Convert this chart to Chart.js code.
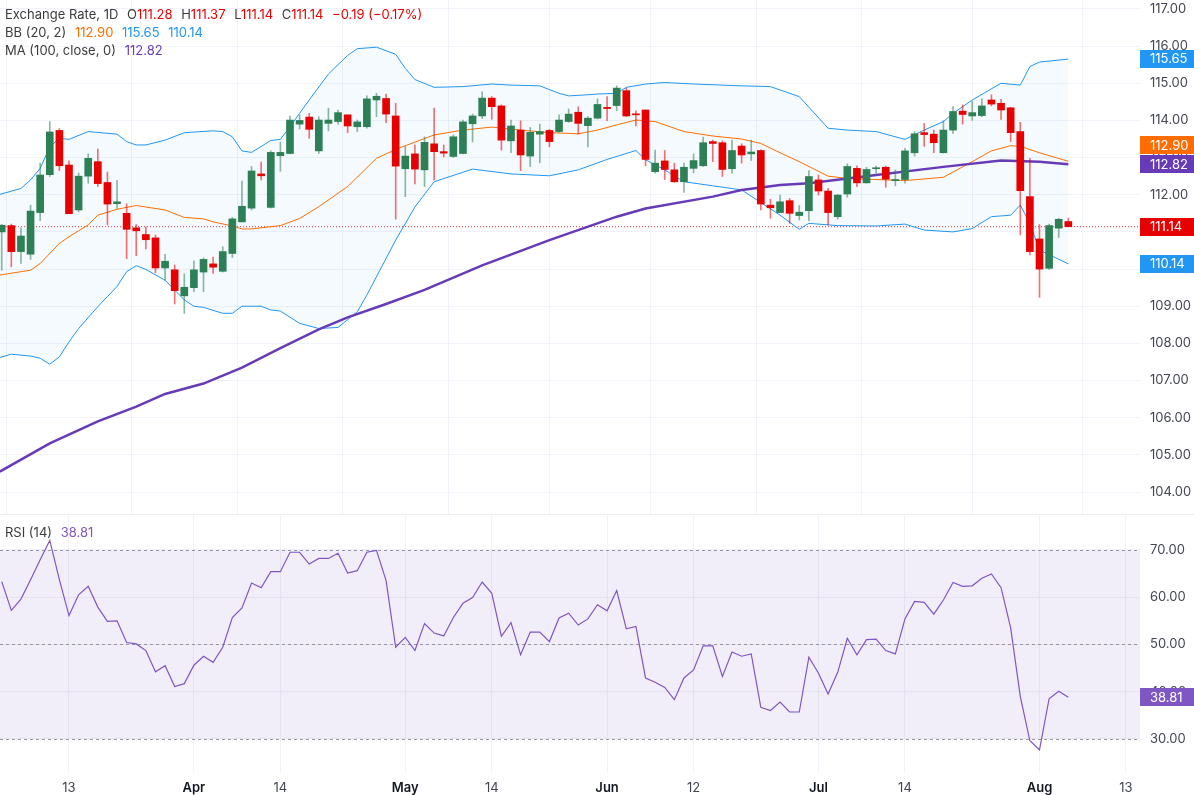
<!DOCTYPE html>
<html>
<head>
<meta charset="utf-8">
<script src="https://cdn.jsdelivr.net/npm/chart.js@4.4.1/dist/chart.umd.min.js"></script>
<style>
  body { margin: 0; background: #fff; font-family: Inter, "Noto Sans", sans-serif; }
  #wrap { position: relative; width: 1194px; height: 795px; overflow: hidden; }
  #price-box { position: absolute; left: 0; top: 0; width: 1194px; height: 514px; }
  #rsi-box { position: absolute; left: 0; top: 514px; width: 1194px; height: 281px; }
  #pane-line { position: absolute; left: 0; top: 514px; width: 1194px; height: 1px; background: #eceef2; }
  .legend { position: absolute; left: 5px; font-size: 13px; line-height: 18px; color: #3c3c3c; white-space: nowrap; }
  .legend span { margin-left: 5px; }
  .red { color: #e60000; }
  .orange { color: #ff6d00; }
  .blue { color: #2196f3; }
  .purple { color: #673ab7; }
  .violet { color: #7e57c2; }
</style>
</head>
<body>
<div id="wrap">
  <div id="price-box"><canvas id="price-chart"></canvas></div>
  <div id="rsi-box"><canvas id="rsi-chart"></canvas></div>
  <div id="pane-line"></div>
  <div class="legend" style="top:5px">Exchange Rate, 1D <span>O<b class="red" style="font-weight:400">111.28</b></span> <span>H<b class="red" style="font-weight:400">111.37</b></span> <span>L<b class="red" style="font-weight:400">111.14</b></span> <span>C<b class="red" style="font-weight:400">111.14</b></span> <span class="red">−0.19 (−0.17%)</span></div>
  <div class="legend" style="top:23px">BB (20, 2) <span class="orange">112.90</span> <span class="blue">115.65</span> <span class="blue">110.14</span></div>
  <div class="legend" style="top:41px">MA (100, close, 0) <span class="purple">112.82</span></div>
  <div class="legend" style="top:523px">RSI (14) <span class="violet">38.81</span></div>
</div>
<script>
'use strict';

// daily candles, index 0 = first day visible on the left edge
let opens = [111.00,111.17,110.47,110.40,111.52,112.54,113.73,112.80,111.59,112.50,
  112.89,112.33,111.76,111.50,111.11,110.93,110.84,110.03,109.98,109.28,
  109.50,109.92,110.14,109.94,110.42,111.27,111.64,112.56,111.66,113.05,
  113.11,113.90,114.09,113.18,113.92,113.97,114.15,113.83,113.83,114.55,
  114.59,114.12,112.70,113.10,112.67,113.37,113.16,113.03,113.11,113.91,
  114.12,114.60,114.39,113.45,113.74,113.04,113.63,113.73,113.70,113.97,
  114.22,113.86,114.06,114.35,114.40,114.80,114.17,114.28,112.62,112.91,
  112.67,112.35,112.71,112.78,113.43,113.40,112.70,113.31,113.10,113.19,
  111.72,111.52,111.84,111.44,111.57,112.40,112.10,111.41,112.02,112.71,
  112.32,112.70,112.74,112.38,112.41,113.13,113.67,113.63,113.13,113.74,
  114.25,114.12,114.13,114.55,114.46,114.34,113.70,111.95,110.81,110.02,
  111.10,111.28];
let highs = [111.20,111.21,111.11,111.72,112.85,113.97,113.78,112.91,112.58,113.10,
  113.23,112.61,112.39,111.76,111.20,111.14,110.92,110.40,110.11,109.87,
  110.22,110.30,110.32,110.60,111.39,112.37,112.76,112.88,113.18,113.42,
  114.12,114.15,114.19,114.10,114.33,114.28,114.15,114.01,114.66,114.73,
  114.71,114.46,113.30,113.34,113.56,114.33,113.34,113.61,114.01,114.17,
  114.77,114.64,114.42,114.01,113.99,113.81,113.90,113.76,114.15,114.31,
  114.37,114.10,114.58,114.64,114.93,114.87,114.26,114.28,113.20,113.19,
  112.85,112.85,113.10,113.55,113.47,113.45,113.47,113.37,113.47,113.21,
  111.88,111.99,111.90,111.71,112.65,112.53,112.17,112.01,112.83,112.78,
  112.74,112.77,112.77,112.67,113.25,113.70,113.92,113.74,113.99,114.37,
  114.42,114.51,114.58,114.69,114.57,114.35,113.95,112.98,111.20,111.21,
  111.37,111.37];
let lows = [109.97,110.06,110.15,110.26,111.30,112.49,112.65,111.49,111.54,112.31,
  112.22,111.19,111.63,110.28,110.36,110.54,109.90,109.70,109.06,108.81,
  109.39,109.39,109.88,109.92,110.31,111.27,111.59,112.40,111.64,112.63,
  113.10,113.77,113.52,113.11,113.72,113.90,113.67,113.70,113.79,114.10,
  113.94,111.34,111.95,112.29,112.22,112.40,113.02,113.00,113.10,113.42,
  114.05,114.03,113.20,113.13,112.65,112.76,112.86,113.29,113.68,113.95,
  113.63,113.29,114.04,113.99,114.26,114.10,113.85,112.78,112.58,112.41,
  112.33,112.06,112.59,112.76,112.89,112.49,112.58,112.85,112.92,111.59,
  111.37,111.52,111.23,111.32,111.30,111.99,111.19,111.34,111.93,112.22,
  112.31,112.58,112.20,112.24,112.31,113.04,113.30,113.13,113.12,113.65,
  113.90,114.00,114.10,114.39,114.03,113.43,110.92,110.38,109.24,109.99,
  110.85,111.14];
let closes = [111.18,110.47,110.89,111.56,112.53,113.69,112.78,111.49,112.50,112.98,
  112.30,111.75,111.81,111.07,111.03,110.79,110.03,110.21,109.42,109.51,
  109.98,110.26,110.05,110.47,111.35,111.69,112.64,112.51,113.14,113.14,
  114.01,114.00,113.76,114.01,114.01,114.21,113.85,113.96,114.58,114.65,
  114.17,112.77,113.04,112.69,113.41,113.16,113.12,113.56,113.96,114.12,
  114.60,114.37,113.47,113.85,113.07,113.68,113.70,113.43,114.01,114.17,
  113.92,114.06,114.43,114.32,114.87,114.12,114.15,112.95,112.85,112.68,
  112.35,112.74,112.92,113.40,113.38,112.68,113.19,113.07,113.15,111.75,
  111.65,111.81,111.50,111.53,112.49,112.10,111.52,111.99,112.76,112.32,
  112.68,112.72,112.42,112.41,113.18,113.64,113.62,113.40,113.74,114.24,
  114.16,114.21,114.39,114.44,114.28,113.67,112.11,110.47,110.00,111.17,
  111.34,111.14];

// Bollinger bands and 100-day MA as [day index, value]
let bbUpper = [[-0.2,112.01],[2,112.17],[3,112.40],[4,112.71],[5,113.29],[6,113.52],[7,113.49],[9,113.70],
  [12,113.63],[13,113.43],[14,113.34],[15,113.34],[17,113.47],[19,113.67],[22,113.72],[23,113.70],
  [24,113.56],[25,113.18],[26,113.14],[28,113.46],[29,113.49],[30,113.83],[31,114.19],[32,114.55],
  [34,115.25],[36,115.75],[37,115.93],[39,115.97],[41,115.78],[42,115.40],[43,115.10],[45,114.89],
  [48,114.91],[51,114.98],[53,114.95],[56,114.93],[58,114.73],[59,114.66],[61,114.69],[62,114.71],
  [64,114.73],[65,114.89],[67,114.98],[69,115.02],[72,114.98],[77,114.93],[80,114.91],[83,114.64],
  [86,113.79],[88,113.74],[91,113.70],[94,113.49],[96,113.74],[98,113.97],[99,114.19],[101,114.55],
  [104,115.00],[106,114.95],[107,115.45],[108,115.57],[111,115.65]];
let bbMiddle = [[-0.2,109.84],[3,109.97],[4,110.15],[6,110.69],[7,110.87],[9,111.19],[10,111.45],[12,111.61],
  [14,111.71],[17,111.59],[19,111.39],[21,111.35],[22,111.27],[24,111.16],[25,111.08],[26,111.08],
  [29,111.17],[31,111.36],[33,111.68],[36,112.22],[39,112.98],[41,113.22],[45,113.61],[48,113.74],
  [51,113.82],[54,113.74],[57,113.67],[60,113.64],[62,113.74],[64,113.88],[66,114.01],[68,113.97],
  [71,113.70],[74,113.58],[77,113.50],[79,113.38],[81,113.13],[83,112.89],[86,112.50],[88,112.44],
  [91,112.41],[94,112.38],[98,112.47],[101,112.89],[103,113.18],[105,113.32],[106,113.30],[108,113.13],
  [111,112.90]];
let bbLower = [[-0.2,107.62],[1,107.71],[3,107.66],[4,107.60],[5,107.44],[6,107.64],[7,108.04],[8,108.40],
  [10,108.99],[11,109.26],[12,109.53],[13,109.93],[14,110.09],[15,109.99],[17,109.70],[19,109.17],
  [20,109.00],[21,108.97],[23,108.81],[24,108.81],[25,109.00],[27,109.00],[28,108.90],[29,108.87],
  [31,108.54],[33,108.40],[35,108.43],[37,108.85],[38,109.30],[41,110.78],[43,111.67],[45,112.35],
  [49,112.69],[53,112.56],[57,112.51],[60,112.67],[63,112.95],[66,113.19],[67,112.94],[69,112.67],
  [71,112.35],[74,112.24],[77,112.13],[81,111.45],[83,111.07],[84,111.23],[87,111.17],[91,111.16],
  [94,111.21],[96,111.05],[99,111.00],[101,111.09],[103,111.41],[105,111.45],[106,111.72],[107,111.23],
  [108,110.51],[111,110.14]];
let ma100 = [[-0.2,104.55],[5,105.31],[10,105.90],[14,106.30],[17,106.64],[21,106.92],[25,107.35],[29,107.87],
  [33,108.38],[36,108.70],[40,109.06],[44,109.44],[50,110.10],[57,110.78],[64,111.41],[67,111.63],
  [74,111.95],[77,112.13],[81,112.26],[84,112.31],[91,112.53],[98,112.75],[104,112.92],[108,112.89],
  [111,112.82]];

// RSI (14), one value per candle
let rsiValues = [63.3,57.2,59.6,63.7,67.9,72.0,63.7,56.1,60.5,62.3,
  57.9,54.9,55.0,50.4,50.1,48.7,44.2,45.5,41.1,41.7,
  45.6,47.5,46.2,49.4,55.7,57.7,63.0,62.0,65.4,65.4,
  69.5,69.5,67.0,68.2,68.2,69.3,65.1,65.6,69.5,69.9,
  63.5,49.4,51.5,48.7,54.4,52.4,51.8,55.7,58.7,59.9,
  63.2,60.8,51.7,54.6,47.8,52.6,52.6,50.6,55.6,56.6,
  54.1,55.4,58.4,57.1,61.4,53.3,53.8,42.9,42.0,40.9,
  38.3,42.9,44.6,49.7,49.7,43.2,48.4,47.5,48.0,36.7,
  36.0,37.8,35.7,35.7,47.3,43.9,39.5,44.1,51.3,47.8,
  51.0,51.1,48.7,48.0,55.4,59.1,58.9,56.4,59.4,63.1,
  62.3,62.4,64.0,64.9,62.0,53.5,39.0,29.6,27.7,38.5,
  40.1,38.81];

// date axis
let tickDays = [7, 20, 29, 42, 51, 63, 72, 85, 94, 108, 117];
let tickLabels = ['13', 'Apr', '14', 'May', '14', 'Jun', '12', 'Jul', '14', 'Aug', '13'];
let priceTicks = [104, 105, 106, 107, 108, 109, 110, 111, 112, 113, 114, 115, 116, 117];
let rsiTicks = [30, 40, 50, 60, 70];

let xMin = -0.18;
let xMax = 118.46;

const GREEN = '#2d8055';
const RED = '#e60000';
const GRID = '#f0f3fa';
const AXIS_TEXT = '#434651';
const FONT = 'Inter, "Noto Sans", sans-serif';

let lastClose = closes[closes.length - 1];

let bodyData = [];
let wickData = [];
let bodyColors = [];
let wickColors = [];
for (let i = 0; i < opens.length; i++) {
  let up = closes[i] >= opens[i];
  bodyData.push({x: i, y: [opens[i], closes[i]]});
  wickData.push({x: i, y: [lows[i], highs[i]]});
  bodyColors.push(up ? GREEN : RED);
  wickColors.push(up ? 'rgba(45,128,85,0.55)' : 'rgba(230,0,0,0.55)');
}

function toXY(pairs) {
  return pairs.map(p => ({x: p[0], y: p[1]}));
}

// no extra room around the panes, the axis labels may overhang
function noPadding(s) {
  s.paddingTop = 0;
  s.paddingBottom = 0;
  s.paddingLeft = 0;
  s.paddingRight = 0;
}

// coloured value boxes on the right axis, pushed apart when they overlap
const tagPlugin = {
  id: 'tags',
  afterDraw(chart, args, opts) {
    let ctx = chart.ctx;
    let area = chart.chartArea;
    let yScale = chart.scales.y;
    let h = 18;
    let items = opts.items.map(t => Object.assign({}, t, {py: yScale.getPixelForValue(t.value)}));
    items.sort((a, b) => b.py - a.py);
    for (let i = 1; i < items.length; i++) {
      if (items[i].py > items[i - 1].py - h - 1) {
        items[i].py = items[i - 1].py - h - 1;
      }
    }
    ctx.save();
    ctx.font = '13px ' + FONT;
    ctx.textBaseline = 'middle';
    items.forEach(t => {
      ctx.fillStyle = t.color;
      ctx.fillRect(area.right, Math.round(t.py - h / 2), chart.width - area.right, h);
      ctx.fillStyle = '#ffffff';
      ctx.fillText(t.value.toFixed(2), area.right + 10, t.py + 0.5);
    });
    ctx.restore();
  }
};

// RSI 30-70 band and dashed levels
const bandPlugin = {
  id: 'rsiBand',
  beforeDatasetsDraw(chart) {
    let ctx = chart.ctx;
    let area = chart.chartArea;
    let y = chart.scales.y;
    let top = y.getPixelForValue(70);
    let bottom = y.getPixelForValue(30);
    ctx.save();
    ctx.fillStyle = 'rgba(126,87,194,0.1)';
    ctx.fillRect(area.left, top, area.right - area.left, bottom - top);
    ctx.strokeStyle = 'rgba(120,123,134,0.75)';
    ctx.lineWidth = 1;
    ctx.setLineDash([3, 3]);
    [70, 50, 30].forEach(v => {
      let py = Math.round(y.getPixelForValue(v)) + 0.5;
      ctx.beginPath();
      ctx.moveTo(area.left, py);
      ctx.lineTo(area.right, py);
      ctx.stroke();
    });
    ctx.restore();
  }
};

function xScale(showLabels) {
  return {
    type: 'linear',
    min: xMin,
    max: xMax,
    offset: false,
    afterBuildTicks: s => { s.ticks = tickDays.map(v => ({value: v})); },
    afterFit: s => { s.height = showLabels ? 23 : 0; noPadding(s); },
    ticks: {
      display: showLabels,
      autoSkip: false,
      maxRotation: 0,
      padding: 8,
      callback: (v, i) => tickLabels[i],
      color: ctx => isNaN(Number(tickLabels[ctx.index])) ? '#131722' : AXIS_TEXT,
      font: ctx => ({family: FONT, size: 13, weight: isNaN(Number(tickLabels[ctx.index])) ? '600' : '400'})
    },
    grid: { color: GRID, drawTicks: false },
    border: { display: false }
  };
}

function yScale(min, max, ticks) {
  return {
    position: 'right',
    min: min,
    max: max,
    afterBuildTicks: s => { s.ticks = ticks.map(v => ({value: v})); },
    afterFit: s => { s.width = 54; noPadding(s); },
    ticks: {
      padding: 10,
      color: AXIS_TEXT,
      font: { family: FONT, size: 13 },
      callback: v => Number(v).toFixed(2)
    },
    grid: { color: GRID, drawTicks: false },
    border: { display: false }
  };
}

let common = {
  responsive: true,
  maintainAspectRatio: false,
  animation: false,
  events: [],
  layout: { padding: 0 },
  elements: { point: { radius: 0 }, line: { tension: 0 } }
};

new Chart(document.getElementById('price-chart'), {
  type: 'line',
  data: {
    datasets: [
      { type: 'bar', data: bodyData, backgroundColor: bodyColors, barThickness: 7, minBarLength: 1, grouped: false, borderWidth: 0, order: 0 },
      { type: 'bar', data: wickData, backgroundColor: wickColors, barThickness: 1, grouped: false, borderWidth: 0, order: 1 },
      { data: toXY(ma100), borderColor: '#673ab7', borderWidth: 2.5, fill: false, order: 2 },
      { data: toXY(bbMiddle), borderColor: '#ff6d00', borderWidth: 1, fill: false, order: 3 },
      { data: toXY(bbUpper), borderColor: '#2196f3', borderWidth: 1, fill: 5, backgroundColor: 'rgba(33,150,243,0.05)', order: 4 },
      { data: toXY(bbLower), borderColor: '#2196f3', borderWidth: 1, fill: false, order: 5 },
      { data: [{x: xMin, y: lastClose}, {x: xMax, y: lastClose}], borderColor: 'rgba(230,0,0,0.8)', borderWidth: 1, borderDash: [1, 2], fill: false, order: 6 }
    ]
  },
  options: Object.assign({}, common, {
    scales: {
      x: xScale(false),
      y: yScale(103.41, 117.24, priceTicks)
    },
    plugins: {
      legend: { display: false },
      tooltip: { enabled: false },
      tags: {
        items: [
          { value: 115.65, color: '#2196f3' },
          { value: 112.90, color: '#ff6d00' },
          { value: 112.82, color: '#673ab7' },
          { value: lastClose, color: RED },
          { value: 110.14, color: '#2196f3' }
        ]
      }
    }
  }),
  plugins: [tagPlugin]
});

new Chart(document.getElementById('rsi-chart'), {
  type: 'line',
  data: {
    datasets: [
      { data: rsiValues.map((v, i) => ({x: i, y: v})), borderColor: '#7e57c2', borderWidth: 1.2, fill: false }
    ]
  },
  options: Object.assign({}, common, {
    scales: {
      x: xScale(true),
      y: yScale(23.0, 77.6, rsiTicks)
    },
    plugins: {
      legend: { display: false },
      tooltip: { enabled: false },
      tags: { items: [ { value: rsiValues[rsiValues.length - 1], color: '#7e57c2' } ] }
    }
  }),
  plugins: [bandPlugin, tagPlugin]
});
</script>
</body>
</html>
